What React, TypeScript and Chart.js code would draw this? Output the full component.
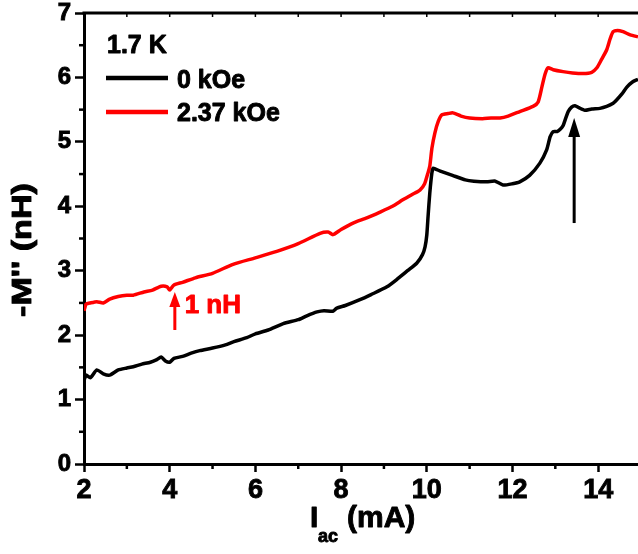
import React, { useEffect, useRef } from 'react';
import { Chart, registerables } from 'chart.js';

Chart.register(...registerables);

// ---- data ----
const BLACK_X = [2.0, 2.05, 2.15, 2.3, 2.45, 2.6, 2.8, 3.0, 3.15, 3.35, 3.55, 3.7, 3.8, 3.9, 4.0, 4.1, 4.3, 4.5, 4.7, 5.0, 5.3, 5.5, 5.8, 6.0, 6.3, 6.65, 7.0, 7.2, 7.44, 7.6, 7.81, 7.9, 8.1, 8.44, 8.7, 9.07, 9.33, 9.55, 9.77, 9.9, 9.96, 10.0, 10.03, 10.07, 10.12, 10.15, 10.3, 10.6, 10.9, 11.1, 11.4, 11.6, 11.78, 12.0, 12.17, 12.4, 12.64, 12.8, 12.88, 12.95, 13.04, 13.12, 13.18, 13.25, 13.3, 13.38, 13.46, 13.55, 13.69, 13.85, 14.04, 14.2, 14.35, 14.43, 14.55, 14.67, 14.8, 14.93];
const BLACK_Y = [1.30, 1.38, 1.34, 1.46, 1.40, 1.38, 1.46, 1.49, 1.51, 1.55, 1.58, 1.62, 1.66, 1.60, 1.58, 1.64, 1.67, 1.72, 1.76, 1.80, 1.85, 1.90, 1.96, 2.02, 2.08, 2.18, 2.24, 2.30, 2.36, 2.38, 2.37, 2.42, 2.46, 2.55, 2.63, 2.75, 2.88, 3.0, 3.12, 3.25, 3.37, 3.55, 3.84, 4.2, 4.52, 4.59, 4.55, 4.48, 4.41, 4.39, 4.38, 4.39, 4.33, 4.35, 4.38, 4.48, 4.67, 4.88, 5.08, 5.16, 5.16, 5.2, 5.25, 5.38, 5.47, 5.54, 5.56, 5.53, 5.49, 5.51, 5.52, 5.55, 5.6, 5.65, 5.74, 5.85, 5.93, 5.97];

const RED_X = [2.0, 2.05, 2.15, 2.3, 2.45, 2.6, 2.8, 3.0, 3.15, 3.4, 3.6, 3.8, 3.94, 4.0, 4.1, 4.3, 4.6, 5.0, 5.48, 6.0, 6.5, 7.0, 7.51, 7.7, 7.81, 8.0, 8.28, 8.6, 8.91, 9.2, 9.44, 9.65, 9.84, 9.95, 10.02, 10.07, 10.12, 10.19, 10.27, 10.35, 10.5, 10.61, 10.8, 11.0, 11.3, 11.5, 11.71, 11.9, 12.17, 12.48, 12.6, 12.69, 12.76, 12.83, 12.95, 13.18, 13.4, 13.65, 13.85, 13.97, 14.08, 14.2, 14.28, 14.35, 14.45, 14.58, 14.75, 14.93];
const RED_Y = [2.38, 2.48, 2.50, 2.52, 2.50, 2.56, 2.60, 2.62, 2.62, 2.67, 2.70, 2.76, 2.75, 2.70, 2.78, 2.82, 2.89, 2.96, 3.10, 3.20, 3.30, 3.42, 3.58, 3.60, 3.56, 3.64, 3.74, 3.82, 3.91, 4.0, 4.10, 4.18, 4.25, 4.35, 4.5, 4.62, 4.9, 5.14, 5.32, 5.42, 5.44, 5.45, 5.40, 5.37, 5.36, 5.37, 5.37, 5.40, 5.47, 5.55, 5.62, 5.86, 6.05, 6.15, 6.12, 6.09, 6.07, 6.06, 6.08, 6.15, 6.28, 6.43, 6.6, 6.71, 6.73, 6.71, 6.66, 6.63];

const X_TICKS = [2, 4, 6, 8, 10, 12, 14];
const X_MINOR = [3, 5, 7, 9, 11, 13];
const X_TOP_TICKS = [3, 4, 5, 6, 7, 8, 9, 10, 11, 12, 13, 14];
const Y_TICKS = [0, 1, 2, 3, 4, 5, 6, 7];
const Y_MINOR = [0.5, 1.5, 2.5, 3.5, 4.5, 5.5, 6.5];
const X_MIN = 2;
const X_MAX = 14.93;
const Y_MIN = 0;
const Y_MAX = 7;

const SERIES_LABELS = ['0 kOe', '2.37 kOe'];
const TEMP_LABEL = '1.7 K';
const X_TITLE_MAIN = 'I';
const X_TITLE_SUB = 'ac';
const X_TITLE_UNIT = '(mA)';
const Y_TITLE = "-M'' (nH)";
const RED_NOTE = '1 nH';

// arrows in data coordinates
const RED_ARROW = { x: 4.12, from: 2.08, to: 2.67 };
const RED_NOTE_POS = { x: 4.35, y: 2.34 };
const BLACK_ARROW = { x: 13.44, from: 3.74, to: 5.37 };

const FONT = "'Liberation Sans', Arial, Helvetica, sans-serif";
const BLACK = '#000000';
const RED = '#ff0000';

function arrow(ctx: CanvasRenderingContext2D, px: number, py0: number, py1: number, color: string, headW: number, headH: number) {
  ctx.strokeStyle = color;
  ctx.fillStyle = color;
  ctx.lineWidth = 3;
  ctx.beginPath();
  ctx.moveTo(px, py0);
  ctx.lineTo(px, py1 + headH - 1);
  ctx.stroke();
  ctx.beginPath();
  ctx.moveTo(px, py1);
  ctx.lineTo(px - headW / 2, py1 + headH);
  ctx.lineTo(px + headW / 2, py1 + headH);
  ctx.closePath();
  ctx.fill();
}

function boldText(ctx: CanvasRenderingContext2D, text: string, x: number, y: number, color: string) {
  ctx.fillStyle = color;
  ctx.strokeStyle = color;
  ctx.lineWidth = 0.9;
  ctx.lineJoin = 'round';
  ctx.fillText(text, x, y);
  ctx.strokeText(text, x, y);
}

const decor = {
  id: 'decor',
  afterDraw(chart: any) {
    const { ctx, chartArea, scales } = chart;
    const { left, right, top, bottom } = chartArea;
    const xs = scales.x;
    const ys = scales.y;
    ctx.save();
    // top spine
    ctx.strokeStyle = BLACK;
    ctx.lineWidth = 3;
    ctx.beginPath();
    ctx.moveTo(left - 1.5, top);
    ctx.lineTo(right, top);
    ctx.stroke();
    ctx.lineWidth = 1.5;
    for (const v of X_TOP_TICKS) {
      const px = xs.getPixelForValue(v);
      ctx.beginPath();
      ctx.moveTo(px, top);
      ctx.lineTo(px, top + 4);
      ctx.stroke();
    }
    // minor ticks
    ctx.lineWidth = 2.5;
    for (const v of X_MINOR) {
      const px = xs.getPixelForValue(v);
      ctx.beginPath();
      ctx.moveTo(px, bottom);
      ctx.lineTo(px, bottom + 5);
      ctx.stroke();
    }
    for (const v of Y_MINOR) {
      const py = ys.getPixelForValue(v);
      ctx.beginPath();
      ctx.moveTo(left, py);
      ctx.lineTo(left - 5, py);
      ctx.stroke();
    }

    // legend
    ctx.textAlign = 'left';
    ctx.textBaseline = 'alphabetic';
    ctx.font = `bold 25px ${FONT}`;
    boldText(ctx, TEMP_LABEL, left + 23, 53, BLACK);
    ctx.lineWidth = 4.5;
    ctx.strokeStyle = BLACK;
    ctx.beginPath();
    ctx.moveTo(left + 22, 78);
    ctx.lineTo(left + 84, 78);
    ctx.stroke();
    boldText(ctx, SERIES_LABELS[0], left + 93, 88, BLACK);
    ctx.lineWidth = 4.5;
    ctx.strokeStyle = RED;
    ctx.beginPath();
    ctx.moveTo(left + 22, 112);
    ctx.lineTo(left + 84, 112);
    ctx.stroke();
    boldText(ctx, SERIES_LABELS[1], left + 93, 121, BLACK);

    // arrows
    arrow(ctx, xs.getPixelForValue(RED_ARROW.x), ys.getPixelForValue(RED_ARROW.from), ys.getPixelForValue(RED_ARROW.to), RED, 11, 15);
    arrow(ctx, xs.getPixelForValue(BLACK_ARROW.x), ys.getPixelForValue(BLACK_ARROW.from), ys.getPixelForValue(BLACK_ARROW.to), BLACK, 12, 19);
    ctx.font = `bold 26px ${FONT}`;
    boldText(ctx, RED_NOTE, xs.getPixelForValue(RED_NOTE_POS.x), ys.getPixelForValue(RED_NOTE_POS.y), RED);

    // x title with subscript
    ctx.font = `bold 30px ${FONT}`;
    boldText(ctx, X_TITLE_MAIN, 310, 527, BLACK);
    ctx.font = `bold 18px ${FONT}`;
    boldText(ctx, X_TITLE_SUB, 318, 542, BLACK);
    ctx.font = `bold 30px ${FONT}`;
    boldText(ctx, X_TITLE_UNIT, 347, 527, BLACK);

    // y title rotated
    ctx.save();
    ctx.translate(31, 250);
    ctx.rotate(-Math.PI / 2);
    ctx.textAlign = 'center';
    ctx.font = `bold 28px ${FONT}`;
    const w = ctx.measureText(Y_TITLE).width;
    ctx.scale(134 / w, 1);
    boldText(ctx, Y_TITLE, 0, 0, BLACK);
    ctx.restore();

    ctx.restore();
  },
};

export default function App() {
  const ref = useRef<HTMLCanvasElement>(null);
  useEffect(() => {
    const canvas = ref.current!;
    const chart = new Chart(canvas, {
      type: 'scatter',
      data: {
        datasets: [
          {
            label: SERIES_LABELS[0],
            data: BLACK_X.map((x, i) => ({ x, y: BLACK_Y[i] })),
            showLine: true,
            borderColor: BLACK,
            backgroundColor: BLACK,
            borderWidth: 3.5,
            pointRadius: 0,
            tension: 0.2,
          },
          {
            label: SERIES_LABELS[1],
            data: RED_X.map((x, i) => ({ x, y: RED_Y[i] })),
            showLine: true,
            borderColor: RED,
            backgroundColor: RED,
            borderWidth: 3.5,
            pointRadius: 0,
            tension: 0.2,
          },
        ],
      },
      options: {
        responsive: false,
        animation: false,
        devicePixelRatio: 1,
        layout: { padding: { top: 13, right: 0, left: 0, bottom: 0 } },
        plugins: { legend: { display: false }, tooltip: { enabled: false } },
        scales: {
          x: {
            type: 'linear',
            min: X_MIN,
            max: X_MAX,
            afterBuildTicks: (s: any) => { s.ticks = X_TICKS.map((v) => ({ value: v })); },
            afterFit: (s: any) => { s.height = 90; s.paddingLeft = 0; s.paddingRight = 0; },
            ticks: { color: BLACK, font: { family: FONT, size: 27, weight: 'bold' }, padding: 2, maxRotation: 0, textStrokeColor: BLACK, textStrokeWidth: 0.9 },
            grid: { display: true, drawOnChartArea: false, drawTicks: true, tickLength: 8, tickWidth: 2.5, tickColor: BLACK },
            border: { display: true, color: BLACK, width: 3 },
          },
          y: {
            type: 'linear',
            min: Y_MIN,
            max: Y_MAX,
            afterBuildTicks: (s: any) => { s.ticks = Y_TICKS.map((v) => ({ value: v })); },
            afterFit: (s: any) => { s.width = 84; s.paddingTop = 0; s.paddingBottom = 0; },
            ticks: { color: BLACK, font: { family: FONT, size: 24, weight: 'bold' }, padding: 4, textStrokeColor: BLACK, textStrokeWidth: 0.9 },
            grid: { display: true, drawOnChartArea: false, drawTicks: true, tickLength: 9, tickWidth: 2.5, tickColor: BLACK },
            border: { display: true, color: BLACK, width: 3 },
          },
        },
      },
      plugins: [decor],
    });
    return () => chart.destroy();
  }, []);
  return (
    <div style={{ position: 'fixed', left: 0, top: 0, width: 638, height: 554, background: '#fff' }}>
      <canvas ref={ref} width={638} height={554} style={{ width: 638, height: 554, display: 'block' }} />
    </div>
  );
}
